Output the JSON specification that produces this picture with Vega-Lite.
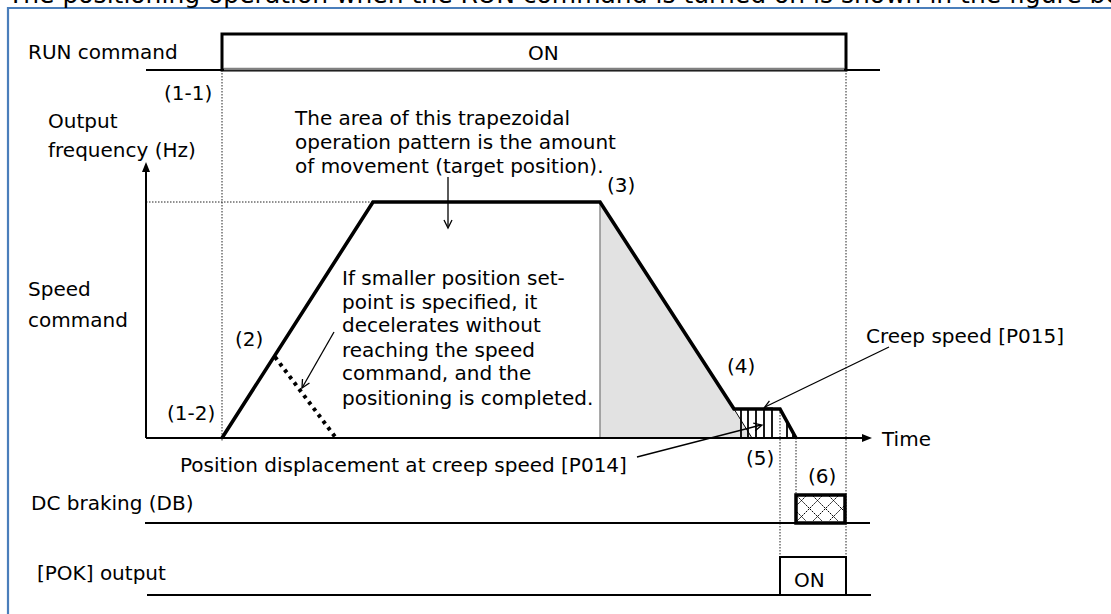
{
  "$schema": "https://vega.github.io/schema/vega-lite/v6.json",
  "width": 1111,
  "height": 614,
  "padding": 0,
  "autosize": {"type": "none"},
  "config": {"view": {"stroke": null}, "text": {"font": "DejaVu Sans", "color": "#000"}},
  "datasets": {
    "border": [{"x": 8, "x2": 1140, "y": 8, "y2": 650}],
    "stipple": [{"x": 600, "y": 202, "y2": 438}, {"x": 752, "y": 438, "y2": 438}],
    "grayEdge": [{"x": 600, "y": 202, "x2": 600, "y2": 438}],
    "hatch": [
      {"x": 741, "y": 409, "y2": 438}, {"x": 748, "y": 409, "y2": 438}, {"x": 756, "y": 409, "y2": 438},
      {"x": 764, "y": 409, "y2": 438}, {"x": 772, "y": 409, "y2": 438}, {"x": 787, "y": 422, "y2": 438},
      {"x": 793, "y": 433, "y2": 438}
    ],
    "cross": [
      {"x": 797, "y": 512, "x2": 806, "y2": 521}, {"x": 797, "y": 496, "x2": 822, "y2": 521},
      {"x": 813, "y": 496, "x2": 838, "y2": 521}, {"x": 829, "y": 496, "x2": 844, "y2": 511},
      {"x": 806, "y": 496, "x2": 797, "y2": 505}, {"x": 822, "y": 496, "x2": 797, "y2": 521},
      {"x": 838, "y": 496, "x2": 813, "y2": 521}, {"x": 844, "y": 506, "x2": 829, "y2": 521}
    ],
    "dotted": [
      {"x": 222, "y": 70, "x2": 222, "y2": 442}, {"x": 846, "y": 70, "x2": 846, "y2": 557},
      {"x": 780, "y": 409, "x2": 780, "y2": 557}, {"x": 796, "y": 438, "x2": 796, "y2": 494},
      {"x": 146, "y": 202, "x2": 373, "y2": 202}
    ],
    "thickDotted": [{"x": 275, "y": 357, "x2": 336, "y2": 438}],
    "trap": [
      {"o": 1, "x": 222, "y": 438}, {"o": 2, "x": 373, "y": 202}, {"o": 3, "x": 600, "y": 202},
      {"o": 4, "x": 734, "y": 409}, {"o": 5, "x": 780, "y": 409}, {"o": 6, "x": 796, "y": 438}
    ],
    "thinSolid": [{"x": 734, "y": 409, "x2": 752, "y2": 438}],
    "medium": [
      {"x": 146, "y": 70, "x2": 222, "y2": 70}, {"x": 846, "y": 70, "x2": 880, "y2": 70},
      {"x": 146, "y": 438, "x2": 146, "y2": 170}, {"x": 146, "y": 438, "x2": 864, "y2": 438},
      {"x": 145, "y": 523, "x2": 870, "y2": 523}, {"x": 147, "y": 595, "x2": 871, "y2": 595}
    ],
    "runBox": [{"x": 222, "x2": 846, "y": 34, "y2": 70}],
    "runBottom": [{"x": 224, "y": 69, "x2": 844, "y2": 69}],
    "pokBox": [{"x": 780, "x2": 846, "y": 557, "y2": 595}],
    "dcBox": [{"x": 796, "x2": 845, "y": 495, "y2": 523}],
    "arrows": [
      {"x": 448, "y": 177, "x2": 448, "y2": 226}, {"x": 334, "y": 332, "x2": 302, "y2": 388},
      {"x": 889, "y": 347, "x2": 765, "y2": 407}, {"x": 637, "y": 457, "x2": 761, "y2": 425}
    ],
    "chevrons": [
      {"x": 448, "y": 228, "angle": 180}, {"x": 302, "y": 388, "angle": 209.7},
      {"x": 764, "y": 408, "angle": 244}, {"x": 762, "y": 425, "angle": 75.6}
    ],
    "heads": [{"x": 146, "y": 162, "angle": 0}, {"x": 872, "y": 438, "angle": 90}],
    "labels": [
      {"x": 28, "y": 59, "t": "RUN command"},
      {"x": 164, "y": 100, "t": "(1-1)"},
      {"x": 48, "y": 128, "t": "Output"},
      {"x": 48, "y": 157, "t": "frequency (Hz)"},
      {"x": 28, "y": 296, "t": "Speed"},
      {"x": 28, "y": 327, "t": "command"},
      {"x": 235, "y": 346, "t": "(2)"},
      {"x": 167, "y": 420, "t": "(1-2)"},
      {"x": 295, "y": 125, "t": "The area of this trapezoidal"},
      {"x": 295, "y": 149, "t": "operation pattern is the amount"},
      {"x": 295, "y": 173, "t": "of movement (target position)."},
      {"x": 607, "y": 192, "t": "(3)"},
      {"x": 342, "y": 285, "t": "If smaller position set-"},
      {"x": 342, "y": 309, "t": "point is specified, it"},
      {"x": 342, "y": 332, "t": "decelerates without"},
      {"x": 342, "y": 357, "t": "reaching the speed"},
      {"x": 342, "y": 380, "t": "command, and the"},
      {"x": 342, "y": 405, "t": "positioning is completed."},
      {"x": 866, "y": 343, "t": "Creep speed [P015]"},
      {"x": 727, "y": 373, "t": "(4)"},
      {"x": 882, "y": 446, "t": "Time"},
      {"x": 180, "y": 472, "t": "Position displacement at creep speed [P014]"},
      {"x": 746, "y": 465, "t": "(5)"},
      {"x": 808, "y": 483, "t": "(6)"},
      {"x": 31, "y": 510, "t": "DC braking (DB)"},
      {"x": 37, "y": 580, "t": "[POK] output"},
      {"x": 528, "y": 60, "t": "ON"},
      {"x": 794, "y": 587, "t": "ON"}
    ],
    "title": [{"x": 8, "y": 3, "t": "The positioning operation when the RUN command is turned on is shown in the figure below."}]
  },
  "encoding": {
    "x": {"field": "x", "type": "quantitative", "scale": {"domain": [0, 1111], "nice": false, "zero": false}, "axis": null},
    "y": {"field": "y", "type": "quantitative", "scale": {"domain": [0, 614], "nice": false, "zero": false, "reverse": true}, "axis": null}
  },
  "layer": [
    {"data": {"name": "border"}, "mark": {"type": "rect", "filled": false, "stroke": "#4a7ebb", "strokeWidth": 2.2, "clip": true},
     "encoding": {"x2": {"field": "x2"}, "y2": {"field": "y2"}}},
    {"data": {"name": "stipple"}, "mark": {"type": "area", "color": "#e2e2e2", "opacity": 1},
     "encoding": {"y2": {"field": "y2"}}},
    {"data": {"name": "grayEdge"}, "mark": {"type": "rule", "color": "#8c8c8c", "strokeWidth": 1.5},
     "encoding": {"x2": {"field": "x2"}, "y2": {"field": "y2"}}},
    {"data": {"name": "hatch"}, "mark": {"type": "rule", "color": "#000", "strokeWidth": 1.8},
     "encoding": {"y2": {"field": "y2"}}},
    {"data": {"name": "cross"}, "mark": {"type": "rule", "color": "#000", "strokeWidth": 1, "strokeDash": [2, 1]},
     "encoding": {"x2": {"field": "x2"}, "y2": {"field": "y2"}}},
    {"data": {"name": "dotted"}, "mark": {"type": "rule", "color": "#222", "strokeWidth": 1, "strokeDash": [1.5, 1.5]},
     "encoding": {"x2": {"field": "x2"}, "y2": {"field": "y2"}}},
    {"data": {"name": "thickDotted"}, "mark": {"type": "rule", "color": "#000", "strokeWidth": 4, "strokeDash": [3.5, 4.5]},
     "encoding": {"x2": {"field": "x2"}, "y2": {"field": "y2"}}},
    {"data": {"name": "thinSolid"}, "mark": {"type": "rule", "color": "#000", "strokeWidth": 1},
     "encoding": {"x2": {"field": "x2"}, "y2": {"field": "y2"}}},
    {"data": {"name": "trap"}, "mark": {"type": "line", "color": "#000", "strokeWidth": 3.6, "strokeJoin": "miter"},
     "encoding": {"order": {"field": "o", "type": "quantitative"}}},
    {"data": {"name": "medium"}, "mark": {"type": "rule", "color": "#000", "strokeWidth": 2},
     "encoding": {"x2": {"field": "x2"}, "y2": {"field": "y2"}}},
    {"data": {"name": "runBox"}, "mark": {"type": "rect", "filled": false, "stroke": "#000", "strokeWidth": 3},
     "encoding": {"x2": {"field": "x2"}, "y2": {"field": "y2"}}},
    {"data": {"name": "runBottom"}, "mark": {"type": "rule", "color": "#808080", "strokeWidth": 2.5},
     "encoding": {"x2": {"field": "x2"}, "y2": {"field": "y2"}}},
    {"data": {"name": "pokBox"}, "mark": {"type": "rect", "filled": false, "stroke": "#000", "strokeWidth": 2},
     "encoding": {"x2": {"field": "x2"}, "y2": {"field": "y2"}}},
    {"data": {"name": "dcBox"}, "mark": {"type": "rect", "filled": false, "stroke": "#000", "strokeWidth": 3.5},
     "encoding": {"x2": {"field": "x2"}, "y2": {"field": "y2"}}},
    {"data": {"name": "arrows"}, "mark": {"type": "rule", "color": "#000", "strokeWidth": 1.3},
     "encoding": {"x2": {"field": "x2"}, "y2": {"field": "y2"}}},
    {"data": {"name": "chevrons"}, "mark": {"type": "point", "shape": "M-1,2L0,0L1,2", "filled": false, "stroke": "#000", "strokeWidth": 1.3, "opacity": 1, "size": 64},
     "encoding": {"angle": {"field": "angle", "type": "quantitative", "scale": null}}},
    {"data": {"name": "heads"}, "mark": {"type": "point", "shape": "M0,0L-0.8,2L0.8,2Z", "filled": true, "color": "#000", "opacity": 1, "size": 100},
     "encoding": {"angle": {"field": "angle", "type": "quantitative", "scale": null}}},
    {"data": {"name": "labels"}, "mark": {"type": "text", "align": "left", "baseline": "alphabetic", "fontSize": 20, "color": "#000"},
     "encoding": {"text": {"field": "t"}}},
    {"data": {"name": "title"}, "mark": {"type": "text", "align": "left", "baseline": "alphabetic", "fontSize": 25, "color": "#000"},
     "encoding": {"text": {"field": "t"}}}
  ]
}
